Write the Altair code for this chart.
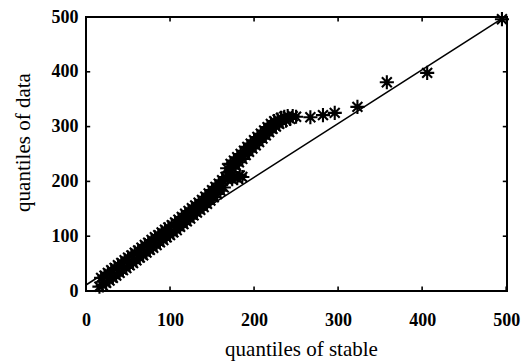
import altair as alt
import pandas as pd

# Quantile-quantile pairs: quantiles of the fitted stable law vs. quantiles of the sample
stable_q = [
    16, 18, 20, 22, 24, 26, 28, 30, 32, 34, 36, 38, 40, 42, 44, 46, 48, 50, 52, 54, 56, 58, 60,
    62, 64, 66, 68, 70, 72, 74, 76, 78, 80, 82, 84, 86, 88, 90, 92, 94, 96, 98, 100,
    102, 104, 106, 108, 110, 112, 114, 116, 118, 120, 122, 124, 126, 128, 130, 132, 134, 136, 138, 140,
    142, 144, 146, 148, 150, 152, 154, 156, 158, 160, 162, 164, 166,
    168, 171, 174, 177, 180, 183, 186,
    168, 170, 172, 174, 176, 178, 180, 182, 184, 186, 188, 190, 192, 194, 196, 198, 200, 202, 204,
    206, 208, 210, 212, 214, 216, 218, 220, 222, 224, 226, 228, 230, 232, 234, 236, 238, 240, 243, 246,
    250, 267, 282, 296, 323, 358, 406, 495,
]
data_q = [
    8, 24, 10, 28, 15, 33, 19, 38, 24, 42, 28, 47, 33, 51, 38, 56, 42, 61, 47, 65, 51, 70, 56,
    74, 61, 79, 65, 84, 70, 88, 75, 93, 79, 98, 84, 102, 89, 107, 93, 112, 98, 116, 102,
    120, 107, 125, 111, 130, 117, 135, 122, 141, 127, 146, 132, 151, 138, 156, 143, 161, 148, 166, 153,
    172, 159, 178, 165, 184, 171, 190, 177, 196, 183, 202, 189, 208,
    204, 209, 204, 209, 206, 211, 208,
    224, 216, 232, 223, 238, 229, 244, 235, 250, 241, 256, 248, 263, 254, 269, 260, 275, 266, 281,
    272, 287, 278, 293, 284, 299, 290, 305, 296, 310, 300, 313, 305, 316, 309, 318, 311, 319, 314, 319,
    318, 317, 321, 325, 336, 381, 398, 496,
]

# Reference line of the fitted law
line_x = [0, 495]
line_y = [11, 497]

# Tick values on all four sides of the box
x_ticks = [0, 100, 200, 300, 400, 500]
y_ticks = [0, 100, 200, 300, 400, 500]
x_max = 501
y_max = 500

serif = "Liberation Serif"
asterisk = "M-1,0L1,0M0,-1L0,1M-0.7,-0.7L0.7,0.7M-0.7,0.7L0.7,-0.7"

x_scale = alt.Scale(domain=[0, x_max], nice=False, zero=False)
y_scale = alt.Scale(domain=[0, y_max], nice=False, zero=False)

x_axis = alt.Axis(
    values=x_ticks, grid=False, domain=False, ticks=False,
    labelFont=serif, labelFontSize=18, labelFontWeight="bold", labelColor="black",
    labelPadding=20, labelFlush=False,
    title="quantiles of stable", titleFont=serif, titleFontSize=21,
    titleFontWeight="normal", titleColor="black",
    titleBaseline="alphabetic", titleAlign="center", titleX=215, titleY=64,
)
y_axis = alt.Axis(
    values=y_ticks, grid=False, domain=False, ticks=False,
    labelFont=serif, labelFontSize=18, labelFontWeight="bold", labelColor="black",
    labelPadding=8, labelFlush=False,
    title="quantiles of data", titleFont=serif, titleFontSize=21,
    titleFontWeight="normal", titleColor="black",
    titleBaseline="alphabetic", titleAlign="center", titleX=-57, titleY=125,
)

pts = pd.DataFrame({"stable": stable_q, "data": data_q})
ref = pd.DataFrame({"stable": line_x, "data": line_y})

points = alt.Chart(pts).mark_point(
    shape=asterisk, filled=False, stroke="black", strokeWidth=2.1,
    size=200, opacity=1,
).encode(
    x=alt.X("stable:Q", scale=x_scale, axis=x_axis),
    y=alt.Y("data:Q", scale=y_scale, axis=y_axis),
)

line = alt.Chart(ref).mark_line(color="black", strokeWidth=1.6).encode(
    x=alt.X("stable:Q", scale=x_scale),
    y=alt.Y("data:Q", scale=y_scale),
)

xt = pd.DataFrame({"t": x_ticks})
yt = pd.DataFrame({"t": y_ticks})
tick_style = dict(color="black", strokeWidth=1.6)

ticks_bottom = alt.Chart(xt).mark_rule(**tick_style).encode(
    x=alt.X("t:Q", scale=x_scale), y=alt.datum(0, scale=y_scale), y2=alt.datum(8)
)
ticks_top = alt.Chart(xt).mark_rule(**tick_style).encode(
    x=alt.X("t:Q", scale=x_scale), y=alt.datum(y_max, scale=y_scale), y2=alt.datum(y_max - 8)
)
ticks_left = alt.Chart(yt).mark_rule(**tick_style).encode(
    y=alt.Y("t:Q", scale=y_scale), x=alt.datum(0, scale=x_scale), x2=alt.datum(5)
)
ticks_right = alt.Chart(yt).mark_rule(**tick_style).encode(
    y=alt.Y("t:Q", scale=y_scale), x=alt.datum(x_max, scale=x_scale), x2=alt.datum(x_max - 5)
)

chart = alt.layer(
    line, points, ticks_bottom, ticks_top, ticks_left, ticks_right
).properties(
    width=421, height=274,
    autosize=alt.AutoSizeParams(type="none"),
    padding={"left": 86, "top": 17, "right": 18, "bottom": 70},
    background="white",
).configure_view(
    stroke="black", strokeWidth=2,
)

chart.save("out.html", embed_options={"renderer": "svg", "actions": False})
